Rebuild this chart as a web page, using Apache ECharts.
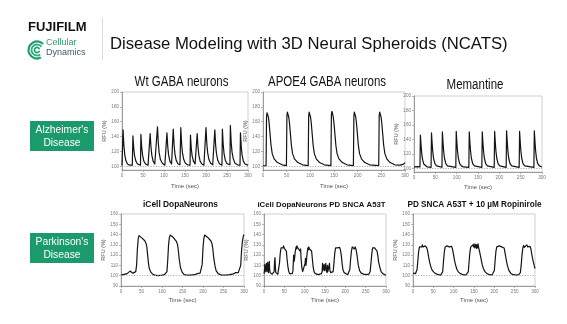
<!DOCTYPE html>
<html>
<head>
<meta charset="utf-8">
<script src="https://cdn.jsdelivr.net/npm/echarts@6/dist/echarts.min.js"></script>
<style>
  html, body { margin: 0; padding: 0; background: #fff; }
  #chart { width: 567px; height: 324px; }
</style>
</head>
<body>
<div id="chart"></div>
<script>
// Calcium traces: [time (sec), RFU (%)]
const wtGaba = [
  [0,101],[1.5,101.5],[2.5,149],[4.5,128],[6.5,116],[9,108],[13,103],[18,101.5],
  [24.5,101.5],[26,141],[28,124],[30,114],[33,107],[37,103],[41,101.5],
  [44,101.5],[45,143],[47,125],[49,115],[52,107],[56,103],[62,101.5],
  [66,101.5],[67,144],[69,126],[71,115],[74,107],[78,103],[82,101.5],
  [83,101.5],[84.5,153],[86.5,131],[88.5,118],[91.5,109],[96,104],[102,101.5],
  [106,101.5],[107,145],[109,126],[111,115],[114,107],[118,103],
  [121,101.5],[122,150],[124,129],[126,117],[129,108],[133,103.5],[138,102],
  [139,102],[140,152],[142,130],[144,118],[147,109],[151,104],[156,102],
  [162,101.5],[163,142],[165,124],[167,114],[170,107],[174,103],
  [178,101.5],[179,144],[181,126],[183,115],[186,107],[190,103],[195,101.5],
  [199,101.5],[200,152],[202,130],[204,118],[207,109],[211,104],[216,102],
  [220,101.5],[221,149],[223,128],[225,117],[228,108],[232,103.5],
  [238,101.5],[239,150],[241,129],[243,117],[246,108],[250,103.5],
  [257,102],[258,155],[260,132],[262,119],[265,110],[269,104],[275,102],
  [281,101.5],[282,145],[284,126],[286,115],[289,107],[293,103],[300,101.5]
];

const apoe4Gaba = [
  [0,100.5],[6.5,101],[7.5,167],[8.5,172],[10,170],[11.5,166],[13,158],[15,143],[17,128],[19.5,117],[23.5,110],[30.5,105],[40.5,102],
  [49.5,101],[50.5,168],[51.5,173],[53,171],[54.5,166],[56,158],[58,143],[60,128],[62.5,117],[66.5,110],[73.5,105],[83.5,102],
  [95.5,101],[96.5,168],[97.5,173],[99,171],[100.5,166],[102,158],[104,143],[106,128],[108.5,117],[112.5,110],[119.5,105],[129.5,102],
  [143.5,101],[144.5,169],[145.5,174],[147,171],[148.5,166],[150,158],[152,143],[154,128],[156.5,117],[160.5,110],[167.5,105],[177.5,102],
  [191,101],[192,168],[193,173],[194.5,171],[196,166],[197.5,158],[199.5,143],[201.5,128],[204,117],[208,110],[215,105],[225,102],
  [244.5,101],[245.5,168],[246.5,173],[248,171],[249.5,166],[251,158],[253,143],[255,128],[257.5,117],[261.5,110],[268.5,105],[278.5,102],
  [290,101.5],[297,103],[300,105]
];

const memantine = [
  [0,102],[8,102.5],[14,102],[15,146],[16.5,132.5],[18,121.5],[20,112.5],[23,106],[27,103.5],[31,102],
  [40,101.5],[41,149],[42.5,134.5],[44,123],[46,113.5],[49,106.5],[53,103.5],[57,102],
  [65.5,101.5],[66.5,150.5],[68,136],[69.5,124],[71.5,114],[74.5,106.5],[78.5,103.5],[83,102],
  [98,101.5],[99,151],[100.5,136],[102,124],[104,114],[107,106.5],[111,103.5],[116,102],
  [128.5,101.5],[129.5,150.5],[131,136],[132.5,124],[134.5,114],[137.5,106.5],[141.5,103.5],[146,102],
  [159,101.5],[160,150.5],[161.5,136],[163,124],[165,114],[168,106.5],[172,103.5],[176,102],
  [188,101.5],[189,151],[190.5,136],[192,124],[194,114],[197,106.5],[201,103.5],[205,102],
  [216,101.5],[217,152],[218.5,137],[220,124.5],[222,114],[225,106.5],[229,103.5],[233,102],
  [246.5,101.5],[247.5,151],[249,136],[250.5,124],[252.5,114],[255.5,106.5],[259.5,103.5],[264,102],
  [281,101.5],[282,152],[283.5,137],[285,124.5],[287,114],[290,106.5],[294,103.5],[298,102],[300,102]
];

const dopaNeurons = [
  [0,100.5],[5,101],[10,101.5],[15,102],[19,103],[22,104.5],[25,103],[29,102.5],[33,103],[36,104],
  [38,110],[40,126],[42,136],[44,139],[47,138.5],[50,137],[54,135.5],[58,134],[61,131.5],[63,128],
  [65,120],[67,112],[69,107],[72,104],[76,102],[82,100.5],[90,100],[100,100.5],[106,101],[110,102],
  [112,104],[114,115],[116,130],[118,137],[120,139.5],[123,139],[127,137.5],[131,136],[135,133.5],[138,130],
  [140,124],[142,116],[145,108],[149,103.5],[154,101],[160,100.5],[170,100.5],[180,101],[186,102],[190,103.5],
  [193,102.5],[196,104],[198,111],[200,127],[202,136],[204,139.5],[207,139],[211,137.5],[215,136],[219,134],
  [222,131],[224,126],[226,118],[229,110],[232,105],[237,102],[245,100.5],[255,100.5],[265,101],[272,101.5],
  [276,102],[280,103],[283,104.5],[286,103],[290,104],[292,110],[294,124],[296,133],[298,138],[300,140]
];

const sncaA53T = [
  [0,102],[1,104],[2,111],[3,104],[4,103],[5,108],[6,112],[7,104],[8,106],[9,113],[10,105],[11,103],
  [12,110],[13,114],[14,106],[15,103],[17,102],[20,101.5],[23,102],[25,104],[26,114],[27,117.5],[28,108],
  [29,103],[31,101.5],[34,101.5],[36,103],[38,112],[40,122],[42,127],[43,128.5],[44,126],[45,128],[47,127],
  [48,129],[50,126.5],[52,127.5],[54,126],[55,124],[57,115],[59,108],[61,104],[63,102],[66,101.5],[69,102],
  [71,104],[72,112],[73,120],[74,114],[75,116],[77,124],[79,128],[80,126],[81,129],[83,127],[84,128.5],
  [86,126],[87,128],[89,124],[90,126],[91,118],[93,108],[95,104],[97,103],[99,104],[101,112],[102,117],
  [103,110],[104,113],[106,122],[108,127],[109,125],[110,128],[112,126],[113,127.5],[115,126],[117,124],
  [119,116],[121,108],[123,104],[126,102],[130,101.5],[134,101],[138,101],[141,102],[143,104],[144,112],
  [145,105],[147,104],[148,111],[149,105],[150,103.5],[151,109],[152,112],[153,105],[155,103],[156,110],
  [157,104],[158,102.5],[160,103],[161,112],[162,105],[164,103],[167,102.5],[170,104],[172,112],[174,122],
  [176,127],[177,128.5],[178,126],[179,128],[181,127],[182,128.5],[184,126],[186,127.5],[188,125],[190,120],
  [192,112],[194,106],[197,103],[201,101.5],[206,101],[209,102],[211,106],[213,116],[215,124],[217,128],
  [218,126.5],[219,128.5],[221,127],[222,126],[224,128],[226,126],[228,122],[230,116],[232,110],[235,105],
  [239,102.5],[245,101.5],[252,101],[258,101.5],[261,104],[263,112],[265,121],[267,127],[268,128.5],
  [269,126],[270,128.5],[272,127],[274,128],[276,126],[278,124],[280,119],[282,113],[285,108],[288,104],
  [292,102],[296,101],[300,100.5]
];

const ropinirole = [
  [0,102.5],[3,103],[6,102],[8,103],[10,106],[12,115],[14,124],[16,128],[18,129.5],[19,127.5],[20,129.5],
  [22,128],[23,130],[25,128],[26,129.5],[28,127.5],[30,129],[32,128],[34,127],[36,124],[38,119],[41,113],
  [44,108.5],[47,105.5],[51,103.5],[56,102],[62,101],[68,100.5],[71,101],[73,104],[75,114],[77,123],
  [79,128],[81,129.5],[82,127.5],[84,129],[86,128],[87,130],[89,128],[91,129.5],[93,127.5],[95,128.5],
  [97,126],[99,122],[102,115],[105,110],[108,106],[112,103.5],[117,102],[123,101],[130,100.5],[134,101],
  [136,104],[138,114],[140,123],[142,128],[144,129.5],[145,127],[147,130],[149,128],[150,131],[152,127],
  [154,130.5],[156,126.5],[157,130],[159,127],[160,131],[162,126],[164,123],[167,117],[170,111],[173,107],
  [177,104],[182,102],[188,101],[194,100.5],[198,101.5],[200,105],[202,115],[204,124],[206,128],[208,129.5],
  [210,127.5],[212,129],[214,128],[216,129.5],[218,128],[220,129],[222,127.5],[224,127],[226,123],[229,116],
  [232,110],[236,105],[241,102],[247,101],[254,100.5],[260,101],[264,103],[266,110],[268,120],[270,127],
  [272,129.5],[274,127.5],[276,129],[278,128],[280,130],[282,128],[284,129],[286,127.5],[288,128.5],[290,126],
  [292,121],[295,115],[298,110],[300,107]
];

// Tick values
const timeTicks = [0, 50, 100, 150, 200, 250, 300];
const alzRfuTicks = [100, 120, 140, 160, 180, 200];
const pdRfuTicks = [90, 100, 110, 120, 130, 140, 150, 160];
const baselineRfu = 100;

// Panel titles and row labels
const panelTitles = [
  'Wt GABA neurons', 'APOE4 GABA neurons', 'Memantine',
  'iCell DopaNeurons', 'iCell DopaNeurons PD SNCA A53T', 'PD SNCA A53T + 10 µM Ropinirole'
];
const rowLabels = ["Alzheimer's\nDisease", "Parkinson's\nDisease"];
const slideTitle = 'Disease Modeling with 3D Neural Spheroids (NCATS)';

const SANS = "'Liberation Sans', Arial, Helvetica, sans-serif";

// Layout of the six plots: [left, top, width, height]
const panels = [
  { data: wtGaba,      rect: [122, 92, 126, 78],  yRange: [95, 200], ticks: alzRfuTicks, nameGap: 13 },
  { data: apoe4Gaba,   rect: [263, 92, 142, 78],  yRange: [95, 200], ticks: alzRfuTicks, nameGap: 13 },
  { data: memantine,   rect: [414, 96, 128, 76],  yRange: [95, 200], ticks: alzRfuTicks, nameGap: 12 },
  { data: dopaNeurons, rect: [121, 214, 123, 72], yRange: [90, 160], ticks: pdRfuTicks, nameGap: 11 },
  { data: sncaA53T,    rect: [264, 214, 122, 72], yRange: [90, 160], ticks: pdRfuTicks, nameGap: 11 },
  { data: ropinirole,  rect: [413, 214, 122, 72], yRange: [90, 160], ticks: pdRfuTicks, nameGap: 11 }
];

const axisGrey = '#8a8a8a';
const grids = [], xAxes = [], yAxes = [], series = [];

panels.forEach((p, i) => {
  grids.push({
    left: p.rect[0], top: p.rect[1], width: p.rect[2], height: p.rect[3],
    show: true, borderColor: '#c4c4c4', borderWidth: 0.8, containLabel: false
  });
  xAxes.push({
    gridIndex: i, type: 'value', min: 0, max: 300,
    name: 'Time (sec)', nameLocation: 'middle', nameGap: p.nameGap,
    nameTextStyle: { fontSize: 6, color: '#555', fontFamily: SANS },
    axisLine: { show: true, lineStyle: { color: axisGrey, width: 0.8 } },
    axisTick: { show: true, length: 2, customValues: timeTicks, lineStyle: { color: axisGrey, width: 0.6 } },
    axisLabel: { fontSize: 4.6, color: '#7a7a7a', margin: 3, customValues: timeTicks, fontFamily: SANS },
    splitLine: { show: false }
  });
  yAxes.push({
    gridIndex: i, type: 'value', min: p.yRange[0], max: p.yRange[1],
    name: 'RFU (%)', nameLocation: 'middle', nameGap: 11, nameRotate: 90,
    nameTextStyle: { fontSize: 5.5, color: '#555', fontFamily: SANS },
    axisLine: { show: true, lineStyle: { color: axisGrey, width: 0.8 } },
    axisTick: { show: true, length: 2, customValues: p.ticks, lineStyle: { color: axisGrey, width: 0.6 } },
    axisLabel: { fontSize: 4.6, color: '#7a7a7a', margin: 3, customValues: p.ticks, fontFamily: SANS },
    splitLine: { show: false }
  });
  series.push({
    type: 'line', xAxisIndex: i, yAxisIndex: i, data: p.data,
    showSymbol: false, symbol: 'none', animation: false,
    lineStyle: { color: '#141414', width: 1.2, join: 'round' },
    markLine: {
      silent: true, symbol: 'none', animation: false,
      label: { show: false },
      lineStyle: { color: '#9a9a9a', type: [1.2, 1.4], width: 0.8 },
      data: [{ yAxis: baselineRfu }]
    }
  });
});

// Condensed headline above each Alzheimer's plot
function narrowTitle(text, x, y) {
  return {
    type: 'text', x: x, y: y, scaleX: 0.82, scaleY: 1,
    style: { text: text, font: "14px " + SANS, fill: '#111', textAlign: 'center', textVerticalAlign: 'middle' }
  };
}

// Slide furniture: logo, divider, headline, row badges, panel titles
const graphics = [
  { type: 'text', left: 28, top: 21, style: { text: 'FUJIFILM', font: "bold 13px " + SANS, fill: '#111' } },
  { type: 'arc', shape: { cx: 37, cy: 50, r: 8.5, startAngle: 0.35 * Math.PI, endAngle: 1.75 * Math.PI },
    style: { stroke: '#1f9e6e', lineWidth: 2.2, fill: null } },
  { type: 'arc', shape: { cx: 37, cy: 50, r: 5.5, startAngle: 0.3 * Math.PI, endAngle: 1.8 * Math.PI },
    style: { stroke: '#2fae7c', lineWidth: 1.8, fill: null } },
  { type: 'arc', shape: { cx: 37, cy: 50, r: 2.6, startAngle: 0.1 * Math.PI, endAngle: 1.9 * Math.PI },
    style: { stroke: '#1f9e6e', lineWidth: 1.6, fill: null } },
  { type: 'text', left: 46, top: 38, style: { text: 'Cellular', font: "9px " + SANS, fill: '#2f9a70' } },
  { type: 'text', left: 46, top: 48, style: { text: 'Dynamics', font: "9px " + SANS, fill: '#3d5c66' } },
  { type: 'line', shape: { x1: 102.5, y1: 18, x2: 102.5, y2: 60 }, style: { stroke: '#dcdcdc', lineWidth: 1 } },
  { type: 'text', x: 110, y: 44, style: { text: slideTitle, font: "16.7px " + SANS, fill: '#111', textVerticalAlign: 'middle' } },

  { type: 'rect', shape: { x: 30, y: 121, width: 64, height: 30 }, style: { fill: '#1b9a6b' } },
  { type: 'text', x: 62, y: 136.5, style: { text: rowLabels[0], font: "10.3px " + SANS, fill: '#fff',
    textAlign: 'center', textVerticalAlign: 'middle', lineHeight: 12.5 } },
  { type: 'rect', shape: { x: 30, y: 233, width: 64, height: 30 }, style: { fill: '#1b9a6b' } },
  { type: 'text', x: 62, y: 248.5, style: { text: rowLabels[1], font: "10.3px " + SANS, fill: '#fff',
    textAlign: 'center', textVerticalAlign: 'middle', lineHeight: 12.5 } },

  narrowTitle(panelTitles[0], 181.5, 82),
  narrowTitle(panelTitles[1], 327, 82),
  narrowTitle(panelTitles[2], 475, 85),
  { type: 'text', x: 180.5, y: 205, style: { text: panelTitles[3], font: "bold 8.4px " + SANS, fill: '#111', textAlign: 'center', textVerticalAlign: 'middle' } },
  { type: 'text', x: 321.5, y: 205, style: { text: panelTitles[4], font: "bold 7.8px " + SANS, fill: '#111', textAlign: 'center', textVerticalAlign: 'middle' } },
  { type: 'text', x: 474.5, y: 204.5, style: { text: panelTitles[5], font: "bold 8.2px " + SANS, fill: '#111', textAlign: 'center', textVerticalAlign: 'middle' } }
];

const chart = echarts.init(document.getElementById('chart'), null, { renderer: 'canvas' });
chart.setOption({
  animation: false,
  backgroundColor: '#ffffff',
  grid: grids,
  xAxis: xAxes,
  yAxis: yAxes,
  series: series,
  graphic: graphics
});
</script>
</body>
</html>
